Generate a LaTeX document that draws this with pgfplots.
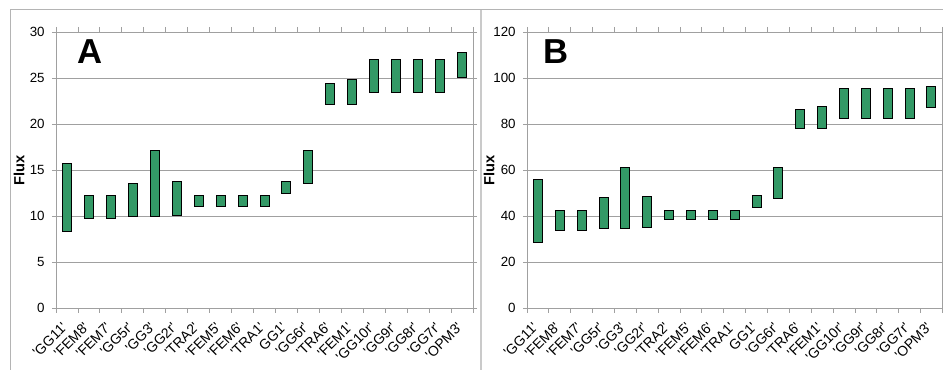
\documentclass[border=0pt]{standalone}
\usepackage{pgfplots}
\usepackage{pgfplotstable}
\pgfplotsset{compat=1.18}
\usepackage{fontspec}
\setmainfont{Liberation Sans}[Ligatures=TeXOff]
\definecolor{bargreen}{RGB}{51,153,102}
\definecolor{gridgray}{RGB}{160,160,160}
\definecolor{framegray}{RGB}{180,180,180}

\pgfplotstableread{
x lo hi
0 8.3 15.7
1 9.7 12.2
2 9.7 12.2
3 9.9 13.5
4 9.9 17.1
5 10.1 13.7
6 11.0 12.2
7 11.0 12.2
8 11.0 12.2
9 11.0 12.2
10 12.4 13.7
11 13.5 17.1
12 22.1 24.4
13 22.1 24.8
14 23.4 27.0
15 23.4 27.0
16 23.4 27.0
17 23.4 27.0
18 25.1 27.8
}\dataA

\pgfplotstableread{
x lo hi
0 28.5 55.7
1 33.5 42.6
2 33.5 42.6
3 34.6 48.0
4 34.6 61.0
5 35.2 48.4
6 38.4 42.6
7 38.4 42.6
8 38.4 42.6
9 38.4 42.6
10 43.8 48.7
11 47.7 61.0
12 78.1 86.4
13 78.1 87.5
14 82.5 95.5
15 82.5 95.5
16 82.5 95.5
17 82.5 95.5
18 87.1 96.5
}\dataB

\pgfplotsset{
  fluxaxis/.style={
    scale only axis,
    height=207pt,
    xmin=-0.5, xmax=18.5,
    ymin=0,
    ybar stacked,
    bar width=6.75pt,
    axis line style={draw=gridgray},
    ymajorgrids,
    grid style={draw=gridgray, line width=0.6pt},
    tick align=outside,
    tick style={draw=gridgray, line width=0.6pt},
    major tick length=3pt,
    minor tick length=3.75pt,
    xtick={0,...,18},
    minor xtick={-0.5,0.5,...,18.5},
    major x tick style={draw=none},
    xticklabels={{'GG11'},{'FEM8'},{'FEM7'},{'GG5r'},{'GG3'},{'GG2r'},{'TRA2'},{'FEM5'},{'FEM6'},{'TRA1'},{GG1'},{'GG6r'},{'TRA6'},{'FEM1'},{'GG10r'},{'GG9r'},{'GG8r'},{'GG7r'},{'OPM3'}},
    xticklabel style={font=\fontsize{10.5}{11}\selectfont, yshift=-9pt, xshift=-1pt, rotate=45, anchor=east, inner sep=1pt},
    yticklabel style={font=\fontsize{10}{11}\selectfont, xshift=-2pt},
    /pgf/number format/assume math mode=true,
    ylabel={Flux},
    ylabel style={font=\fontsize{11}{12}\selectfont\bfseries, anchor=center},
    clip=false,
  },
  lowbar/.style={draw=none, fill=none, forget plot},
  highbar/.style={draw=black, line width=0.75pt, fill=bargreen},
}

\begin{document}
\begin{tikzpicture}
\path[use as bounding box] (0,0) rectangle (707.25pt,277.5pt);
% panel frames
\draw[framegray, line width=0.75pt] (7.9pt,0) -- (7.9pt,270pt) -- (707.25pt,270pt);
\draw[framegray!70, line width=1.4pt] (360.6pt,0) -- (360.6pt,270pt);

\begin{axis}[fluxaxis,
  at={(42pt,46.5pt)}, anchor=south west,
  width=312.75pt,
  ymax=30, ytick={0,5,...,30},
  ylabel style={at={(axis description cs:-0.0887,0.5)}},
]
\addplot[lowbar] table[x=x, y=lo] {\dataA};
\addplot[highbar] table[x=x, y expr=\thisrow{hi}-\thisrow{lo}] {\dataA};
\node[font=\fontsize{26}{28}\selectfont\bfseries] at (rel axis cs:0.0815,0.928) {A};
\end{axis}

\begin{axis}[fluxaxis,
  at={(395.25pt,46.5pt)}, anchor=south west,
  width=311.5pt,
  ymax=120, ytick={0,20,...,120},
  ylabel style={at={(axis description cs:-0.0913,0.5)}},
]
\addplot[lowbar] table[x=x, y=lo] {\dataB};
\addplot[highbar] table[x=x, y expr=\thisrow{hi}-\thisrow{lo}] {\dataB};
\node[font=\fontsize{26}{28}\selectfont\bfseries] at (rel axis cs:0.071,0.928) {B};
\end{axis}
\end{tikzpicture}
\end{document}
